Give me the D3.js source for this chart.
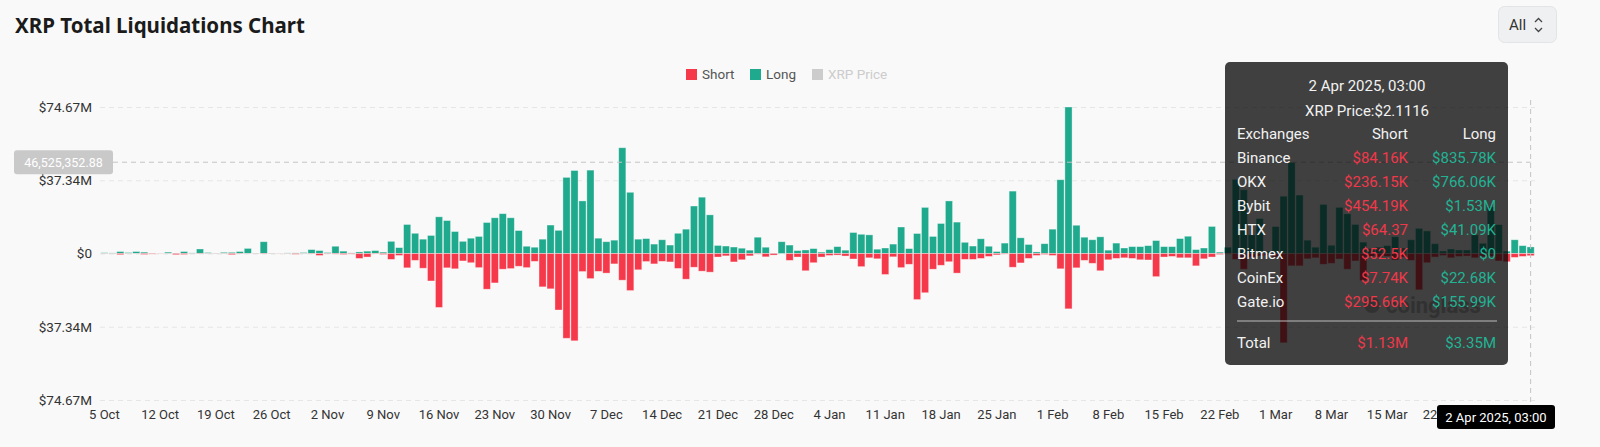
<!DOCTYPE html>
<html>
<head>
<meta charset="utf-8">
<script src="https://cdn.jsdelivr.net/npm/d3@7"></script>
<style>
  body { margin: 0; background: #f9f9f9; }
  svg { display: block; font-family: Roboto, "Noto Sans", sans-serif; }
</style>
</head>
<body>
<svg id="chart" width="1600" height="447"></svg>
<script>
// daily liquidations in $M, 5 Oct 2024 .. 2 Apr 2025
const startDate = new Date(2024, 9, 5);
const longVals = [
  0.4,0.3,1.0,0.5,1.0,0.7,0.1,0.1,0.7,0.2,1.0,0.3,2.3,0.5,0.2,0.6,0.6,1.0,2.6,0.2,6.0,0.2,0.1,0.3,0.3,0.5,2.0,1.5,0.5,
  3.7,1.2,0.3,0.8,1.2,1.5,0.7,6.2,3.0,14.8,10.3,7.3,9.2,18.7,16.8,11.2,6.2,7.8,8.7,15.8,18.2,20.3,18.2,11.7,3.7,3.2,7.3,14.5,11.8,38.8,42.3,26.8,
  42.5,7.8,6.0,6.8,53.9,31.2,7.3,7.6,4.8,7.0,4.3,10.3,12.4,24.2,28.7,19.7,4.1,3.8,3.3,2.7,1.7,8.3,
  3.2,0.2,6.0,4.3,1.5,1.8,2.5,0.7,2.0,3.5,1.7,10.7,9.8,9.5,2.2,2.8,4.8,13.5,2.5,10.2,23.5,8.7,15.3,26.8,16.0,5.7,3.8,7.5,3.7,1.0,5.3,
  31.8,8.0,4.6,0.8,5.0,12.4,37.6,74.67,14.4,8.3,7.0,8.5,1.7,5.3,2.8,3.5,3.5,4.0,6.6,3.5,3.5,7.6,8.8,2.0,2.8,13.8,0.7,
  3.2,37.8,32.5,9.5,17.8,1.2,13.7,29.2,46.5,29.8,6.8,3.2,25.0,4.2,23.5,20.2,14.8,5.8,2.5,3.2,4.0,8.5,2.8,7.0,12.8,11.5,5.0,1.3,2.3,1.8,1.8,9.5,5.2,23.7,14.7,1.2,
  7.0,4.0,3.35
];
const shortVals = [
  0.1,0.1,0.6,0.1,0.1,0.5,0.3,0.1,0.1,0.6,0.5,0.1,0.2,0.1,0.1,0.1,0.6,0.2,0.1,0.1,0.2,0.1,0.1,0.1,0.4,0.1,0.2,1.0,0.2,
  0.3,0.5,0.3,2.5,1.8,0.2,0.5,3.0,1.0,7.3,3.5,7.5,14.0,27.5,7.3,7.8,3.8,4.7,7.2,18.2,15.0,8.0,7.7,6.5,7.2,4.0,17.0,18.0,28.8,43.2,44.5,9.2,
  12.8,9.1,10.0,5.3,13.6,18.9,8.3,4.1,5.3,4.0,4.3,7.6,13.1,7.0,9.0,9.5,1.8,1.2,4.3,3.2,1.2,0.3,
  1.7,0.8,0.0,3.5,1.8,8.8,4.7,1.8,1.0,0.8,1.3,2.8,6.7,2.2,2.7,10.7,1.7,7.2,5.5,23.5,20.0,8.0,6.0,4.2,10.0,3.0,3.0,2.5,1.5,0.7,0.3,
  7.0,4.8,2.5,1.0,0.5,1.0,7.8,28.2,7.3,3.5,5.0,8.8,3.2,2.5,2.2,2.5,3.2,3.3,11.8,1.8,1.5,2.2,2.2,6.3,2.7,1.8,0.5,
  0.3,3.0,8.0,1.8,1.3,1.0,1.8,45.5,6.3,6.3,2.7,2.2,5.5,5.0,2.8,8.0,3.8,13.8,1.5,1.8,1.5,3.3,1.8,3.5,18.5,4.7,1.8,1.0,2.2,1.5,1.3,2.2,1.7,1.5,3.8,4.2,
  2.0,1.5,1.13
];
// the 29 Mar label sits under the hover date box, so it is left out
const tickLabels = ["5 Oct","12 Oct","19 Oct","26 Oct","2 Nov","9 Nov","16 Nov","23 Nov","30 Nov","7 Dec","14 Dec","21 Dec","28 Dec",
  "4 Jan","11 Jan","18 Jan","25 Jan","1 Feb","8 Feb","15 Feb","22 Feb","1 Mar","8 Mar","15 Mar","22 Mar"];
const yTicks = [74.67, 37.34, 0, -37.34, -74.67];

// tooltip content
const tipExchanges = ["Binance","OKX","Bybit","HTX","Bitmex","CoinEx","Gate.io"];
const tipShort = ["$84.16K","$236.15K","$454.19K","$64.37","$52.5K","$7.74K","$295.66K"];
const tipLong = ["$835.78K","$766.06K","$1.53M","$41.09K","$0","$22.68K","$155.99K"];
const crossValue = 46.52535288;

const RED = "#f5384a", GREEN = "#1fa98d";
const dates = d3.timeDay.range(startDate, d3.timeDay.offset(startDate, longVals.length));
const rows = dates.map((d, i) => ({ date: d, long: longVals[i], short: shortVals[i] }));

const svg = d3.select("#chart");
const plotL = 100, plotR = 1535, plotT = 107, plotB = 400;

const x = d3.scaleBand().domain(d3.range(rows.length)).range([plotL, plotR]).padding(0.1);
const y = d3.scaleLinear().domain([-74.67, 74.67]).range([plotB, plotT]);

// title
svg.append("text").attr("x", 15).attr("y", 33)
  .attr("font-family", "'Noto Sans', sans-serif").attr("font-weight", 700).attr("font-size", 20.5)
  .attr("fill", "#1b1b1b").text("XRP Total Liquidations Chart");

// All selector
const btn = svg.append("g");
btn.append("rect").attr("x", 1498.5).attr("y", 6.5).attr("width", 58).attr("height", 36).attr("rx", 6)
  .attr("fill", "#eef0f2").attr("stroke", "#e2e4e6");
btn.append("text").attr("x", 1509).attr("y", 30).attr("font-size", 15).attr("fill", "#333").text("All");
btn.append("path").attr("d", "M1535,22 l3.5,-3.5 l3.5,3.5 M1535,28 l3.5,3.5 l3.5,-3.5")
  .attr("fill", "none").attr("stroke", "#444").attr("stroke-width", 1.3);

// legend
const legend = [{ k: "Short", c: RED, t: "#555" }, { k: "Long", c: GREEN, t: "#555" }, { k: "XRP Price", c: "#ccc", t: "#ccc" }];
const lx = [686, 750, 812];
legend.forEach((l, i) => {
  svg.append("rect").attr("x", lx[i]).attr("y", 69).attr("width", 11).attr("height", 11).attr("fill", l.c);
  svg.append("text").attr("x", lx[i] + 16).attr("y", 79).attr("font-size", 13.5).attr("fill", l.t).text(l.k);
});

// y axis + grid
const yAxis = svg.append("g").attr("transform", `translate(${plotL},0)`)
  .call(d3.axisLeft(y).tickValues(yTicks).tickSize(-(plotR - plotL)).tickPadding(8)
    .tickFormat(d => d === 0 ? "$0" : "$" + Math.abs(d).toFixed(2) + "M"));
yAxis.select(".domain").remove();
yAxis.selectAll("line").attr("stroke", "#e6e6e6").attr("stroke-dasharray", "5,4");
yAxis.selectAll("text").attr("font-size", 13.5).attr("fill", "#333").attr("font-family", "Roboto, sans-serif");

// x axis
const tickIdx = tickLabels.map((_, i) => i * 7);
const xAxis = svg.append("g").attr("transform", `translate(0,${plotB})`)
  .call(d3.axisBottom(x).tickValues(tickIdx).tickSize(0).tickPadding(10)
    .tickFormat((d, i) => tickLabels[i]));
xAxis.select(".domain").remove();
xAxis.selectAll("text").attr("font-size", 13).attr("fill", "#333").attr("font-family", "Roboto, sans-serif");

// bars
const bars = svg.append("g");
bars.selectAll(".long").data(rows).enter().append("rect")
  .attr("x", (d, i) => x(i)).attr("width", x.bandwidth())
  .attr("y", d => y(d.long)).attr("height", d => y(0) - y(d.long))
  .attr("fill", GREEN).attr("stroke", "#fff").attr("stroke-opacity", 0.45).attr("stroke-width", 0.8);
bars.selectAll(".short").data(rows).enter().append("rect")
  .attr("x", (d, i) => x(i)).attr("width", x.bandwidth())
  .attr("y", y(0)).attr("height", d => y(-d.short) - y(0))
  .attr("fill", RED).attr("stroke", "#fff").attr("stroke-opacity", 0.45).attr("stroke-width", 0.8);

// watermark
const wm = svg.append("g").attr("opacity", 0.4);
wm.append("circle").attr("cx", 1372).attr("cy", 305).attr("r", 8).attr("fill", "#666");
wm.append("text").attr("x", 1386).attr("y", 313).attr("font-size", 22).attr("font-weight", 700)
  .attr("fill", "#666").text("coinglass");

// crosshair
const lastX = x(rows.length - 1) + x.bandwidth() / 2;
svg.append("line").attr("x1", 113).attr("x2", lastX).attr("y1", y(crossValue)).attr("y2", y(crossValue))
  .attr("stroke", "#c4c4c4").attr("stroke-dasharray", "5,4");
svg.append("line").attr("x1", lastX).attr("x2", lastX).attr("y1", 100).attr("y2", 405)
  .attr("stroke", "#c4c4c4").attr("stroke-dasharray", "5,4");
svg.append("rect").attr("x", 14).attr("y", y(crossValue) - 12).attr("width", 99).attr("height", 24).attr("rx", 3)
  .attr("fill", "#c9c9c9");
svg.append("text").attr("x", 63.5).attr("y", y(crossValue) + 4.5).attr("text-anchor", "middle")
  .attr("font-size", 12.5).attr("fill", "#fff").text(d3.format(",.2f")(crossValue * 1e6));

svg.append("rect").attr("x", 1437).attr("y", 405).attr("width", 118).attr("height", 24).attr("rx", 3).attr("fill", "#000");
svg.append("text").attr("x", 1496).attr("y", 422).attr("text-anchor", "middle").attr("font-size", 13)
  .attr("fill", "#fff").text("2 Apr 2025, 03:00");

// tooltip
const tip = svg.append("g").attr("font-size", 15);
tip.append("rect").attr("x", 1225).attr("y", 62).attr("width", 283).attr("height", 303).attr("rx", 5)
  .attr("fill", "rgba(5,5,5,0.76)");
tip.append("text").attr("x", 1367).attr("y", 91).attr("text-anchor", "middle").attr("fill", "#f2f2f2").text("2 Apr 2025, 03:00");
tip.append("text").attr("x", 1367).attr("y", 116).attr("text-anchor", "middle").attr("fill", "#f2f2f2").text("XRP Price:$2.1116");
tip.append("text").attr("x", 1237).attr("y", 139).attr("fill", "#f2f2f2").text("Exchanges");
tip.append("text").attr("x", 1408).attr("y", 139).attr("text-anchor", "end").attr("fill", "#f2f2f2").text("Short");
tip.append("text").attr("x", 1496).attr("y", 139).attr("text-anchor", "end").attr("fill", "#f2f2f2").text("Long");
tipExchanges.forEach((e, i) => {
  const ty = 163 + i * 24;
  tip.append("text").attr("x", 1237).attr("y", ty).attr("fill", "#f2f2f2").text(e);
  tip.append("text").attr("x", 1408).attr("y", ty).attr("text-anchor", "end").attr("fill", "#f0384a").text(tipShort[i]);
  tip.append("text").attr("x", 1496).attr("y", ty).attr("text-anchor", "end").attr("fill", "#22b394").text(tipLong[i]);
});
tip.append("line").attr("x1", 1237).attr("x2", 1497).attr("y1", 321).attr("y2", 321).attr("stroke", "#bbb").attr("stroke-width", 1.2);
tip.append("text").attr("x", 1237).attr("y", 348).attr("fill", "#f2f2f2").text("Total");
tip.append("text").attr("x", 1408).attr("y", 348).attr("text-anchor", "end").attr("fill", "#f0384a").text("$1.13M");
tip.append("text").attr("x", 1496).attr("y", 348).attr("text-anchor", "end").attr("fill", "#22b394").text("$3.35M");
</script>
</body>
</html>
